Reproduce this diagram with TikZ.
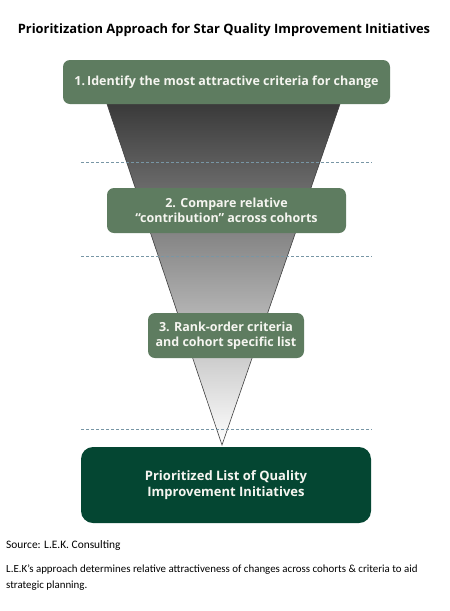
\documentclass[tikz,border=0pt]{standalone}
\usepackage{fontspec}
\setmainfont{Open Sans}
\newfontfamily\capfont{Carlito}
\definecolor{stepgreen}{RGB}{94,124,96}
\definecolor{darkgreen}{RGB}{4,70,50}
\definecolor{dashblue}{RGB}{120,150,165}
\definecolor{funneltop}{RGB}{58,58,58}
\definecolor{boxtext}{RGB}{245,245,240}
\begin{document}
\begin{tikzpicture}[x=1pt,y=-1pt,
  stepbox/.style={fill=stepgreen, rounded corners=7pt, text=boxtext, align=center,
     font=\bfseries\fontsize{12.5}{15}\selectfont, inner sep=0pt},
  finalbox/.style={fill=darkgreen, rounded corners=12pt, text=boxtext, align=center,
     font=\bfseries\fontsize{13}{16}\selectfont, inner sep=0pt},
  dashline/.style={draw=dashblue, dashed, dash pattern=on 3pt off 2pt, line width=0.8pt}]
\useasboundingbox (0,0) rectangle (450,611);
\fill[white] (0,0) rectangle (450,611);
\node[font=\bfseries\fontsize{12.9}{16}\selectfont] (title) at (224,30) {Prioritization Approach for Star Quality Improvement Initiatives};
\shade[top color=funneltop, bottom color=white, draw=black!75, line width=0.6pt] (107,104) -- (340,104) -- (222,445) -- cycle;
\draw[dashline] (81,162) -- (372,162);
\draw[dashline] (81,256) -- (372,256);
\draw[dashline] (81,429) -- (372,429);
\node[stepbox, minimum width=327pt, minimum height=44pt] (s1) at (226.5,82) {1.\,Identify the most attractive criteria for change};
\node[stepbox, minimum width=239pt, minimum height=45pt] (s2) at (226.5,210.5) {2. Compare relative\\“contribution” across cohorts};
\node[stepbox, minimum width=156pt, minimum height=45pt] (s3) at (226,335.5) {3. Rank-order criteria\\and cohort specific list};
\node[finalbox, minimum width=290pt, minimum height=76pt] (fin) at (226,485) {Prioritized List of Quality\\Improvement Initiatives};
\node[anchor=west, font=\capfont\fontsize{11.4}{13}\selectfont, inner sep=0pt] (src) at (6,546) {Source: L.E.K. Consulting};
\node[anchor=west, align=left, font=\capfont\fontsize{10.9}{16}\selectfont, inner sep=0pt] (cap) at (6,578) {L.E.K’s approach determines relative attractiveness of changes across cohorts \& criteria to aid\\strategic planning.};
\end{tikzpicture}
\end{document}
